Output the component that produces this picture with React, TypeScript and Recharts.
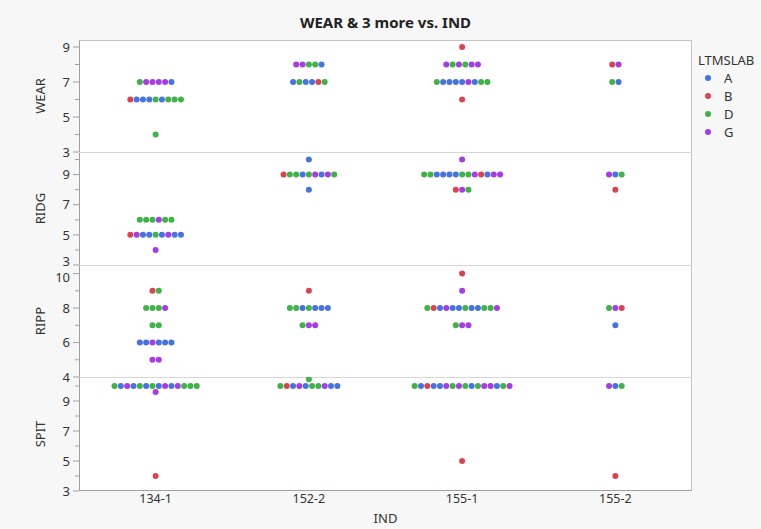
import React from 'react';
import { ScatterChart, Scatter, XAxis, YAxis } from 'recharts';

// IND categories along the x axis
const inds = ['134-1', '152-2', '155-1', '155-2'];

// LTMSLAB groups and their colours
const labs = ['A', 'B', 'D', 'G'];
const labColors: Record<string, string> = {
  A: '#4673E1',
  B: '#DA4450',
  D: '#3FB248',
  G: '#A53CE6',
};

// each row: [IND, value, LTMSLAB of every dot in the row, left to right]
type Row = [string, number, string];

const wearRows: Row[] = [
  ['134-1', 7, 'DGGGGA'],
  ['134-1', 6, 'BAAADADDD'],
  ['134-1', 4, 'D'],
  ['152-2', 8, 'GGDDA'],
  ['152-2', 7, 'ADAABD'],
  ['155-1', 9, 'B'],
  ['155-1', 8, 'GDGDGG'],
  ['155-1', 7, 'DAAAAGADD'],
  ['155-1', 6, 'B'],
  ['155-2', 8, 'BG'],
  ['155-2', 7, 'DA'],
];

const ridgRows: Row[] = [
  ['134-1', 6, 'DDDGDD'],
  ['134-1', 5, 'BGAADAGAA'],
  ['134-1', 4, 'G'],
  ['152-2', 10, 'A'],
  ['152-2', 9, 'BDDADGAGD'],
  ['152-2', 8, 'A'],
  ['155-1', 10, 'G'],
  ['155-1', 9, 'DDAAAADDGBAGG'],
  ['155-1', 8, 'BGD'],
  ['155-2', 9, 'GAD'],
  ['155-2', 8, 'B'],
];

const rippRows: Row[] = [
  ['134-1', 9, 'BD'],
  ['134-1', 8, 'DDDG'],
  ['134-1', 7, 'DD'],
  ['134-1', 6, 'AAGAAA'],
  ['134-1', 5, 'GG'],
  ['152-2', 9, 'B'],
  ['152-2', 8, 'DDADAAA'],
  ['152-2', 7, 'DGG'],
  ['155-1', 10, 'B'],
  ['155-1', 9, 'G'],
  ['155-1', 8, 'DBAGAADAADDG'],
  ['155-1', 7, 'DGG'],
  ['155-2', 8, 'DGB'],
  ['155-2', 7, 'A'],
];

const spitRows: Row[] = [
  ['134-1', 10, 'DAGADADAGAGDDD'],
  ['134-1', 9.6, 'G'],
  ['134-1', 4, 'B'],
  ['152-2', 10.45, 'D'],
  ['152-2', 10, 'DBAGADDGAA'],
  ['155-1', 10, 'DABAAGDGDADGGADG'],
  ['155-1', 5, 'B'],
  ['155-2', 10, 'GAD'],
  ['155-2', 4, 'B'],
];

// labelled and unlabelled ticks per panel
const wearTicks = [3, 5, 7, 9];
const wearMinor = [3, 4, 5, 6, 7, 8, 9];
const ridgTicks = [3, 5, 7, 9];
const ridgMinor = [3, 4, 5, 6, 7, 8, 9, 10];
const rippTicks = [4, 6, 8, 10];
const rippMinor = [4, 5, 6, 7, 8, 9, 10];
const spitTicks = [3, 5, 7, 9];
const spitMinor = [3, 4, 5, 6, 7, 8, 9, 10];

const W = 761;
const H = 529;
const PLOT_L = 79;
const PLOT_R = 692;
const PAD = 10;
const X_AXIS_H = 36;
const DOT_STEP = 0.0413; // horizontal spacing of swarm dots, in x units
const AXIS_GRAY = '#a0a0a0';
const TEXT = '#333';

const panels = [
  { name: 'WEAR', rows: wearRows, domain: [3, 9.4], ticks: wearTicks, minor: wearMinor, top: 40, bottom: 152 },
  { name: 'RIDG', rows: ridgRows, domain: [3, 10.5], ticks: ridgTicks, minor: ridgMinor, top: 152, bottom: 265 },
  { name: 'RIPP', rows: rippRows, domain: [4, 10.5], ticks: rippTicks, minor: rippMinor, top: 265, bottom: 377 },
  { name: 'SPIT', rows: spitRows, domain: [3, 10.6], ticks: spitTicks, minor: spitMinor, top: 377, bottom: 491 },
];

const toPoints = (rows: Row[]) => {
  const pts: { x: number; y: number; lab: string }[] = [];
  rows.forEach(([ind, value, seq]) => {
    const n = seq.length;
    seq.split('').forEach((lab, i) => {
      pts.push({
        x: inds.indexOf(ind) + 0.5 + (i - (n - 1) / 2) * DOT_STEP,
        y: value,
        lab,
      });
    });
  });
  return pts;
};

const YTick = (props: any) => {
  const { x, y, payload, major, nudgeLow, nudgeHigh } = props;
  const isMajor = major.includes(payload.value);
  // keep labels sitting on a panel border from colliding with the neighbour panel's label
  let shift = 0;
  if (nudgeLow && payload.value === major[0]) shift = -4;
  if (nudgeHigh && payload.value === major[major.length - 1]) shift = 4;
  return (
    <g>
      <line x1={x - (isMajor ? 6 : 4)} x2={x} y1={y} y2={y} stroke={AXIS_GRAY} />
      {isMajor && (
        <text x={x - 9} y={y + shift} dy="0.36em" textAnchor="end" fontSize={13} fill={TEXT}>
          {payload.value}
        </text>
      )}
    </g>
  );
};

const Dot = (color: string) => (props: any) => (
  <circle cx={props.cx} cy={props.cy} r={3} fill={color} />
);

const Panel = ({ p, last, idx }: { p: (typeof panels)[number]; last: boolean; idx: number }) => {
  const pts = toPoints(p.rows);
  const h = p.bottom - p.top;
  const height = PAD + h + (last ? X_AXIS_H : PAD);
  const nudgeLow = idx === 1;
  const nudgeHigh = idx === 2;
  return (
    <div style={{ position: 'absolute', left: 0, top: p.top - PAD }}>
      <ScatterChart
        width={W}
        height={height}
        margin={{ top: PAD, right: W - PLOT_R, bottom: last ? 0 : PAD, left: 0 }}
      >
        <XAxis
          type="number"
          dataKey="x"
          domain={[0, 4]}
          allowDataOverflow
          hide={!last}
          ticks={[0.5, 1.5, 2.5, 3.5]}
          interval={0}
          tickFormatter={(v: number) => inds[Math.floor(v)]}
          axisLine={false}
          tickLine={false}
          tickSize={0}
          tickMargin={3}
          height={X_AXIS_H}
          tick={{ fontSize: 12.5, fill: TEXT }}
          label={{ value: 'IND', position: 'insideBottom', offset: 4, fontSize: 13, fill: TEXT }}
        />
        <YAxis
          type="number"
          dataKey="y"
          domain={p.domain}
          allowDataOverflow
          ticks={p.minor}
          interval={0}
          width={PLOT_L}
          axisLine={false}
          tickLine={false}
          tickSize={0}
          tickMargin={0}
          tick={(tp: any) => (
            <YTick {...tp} major={p.ticks} nudgeLow={nudgeLow} nudgeHigh={nudgeHigh} />
          )}
          label={{
            value: p.name,
            angle: -90,
            position: 'insideLeft',
            offset: 40,
            fontSize: 13,
            fill: TEXT,
            style: { textAnchor: 'middle' },
          }}
        />
        {labs.map((lab) => (
          <Scatter
            key={lab}
            name={lab}
            data={pts.filter((d) => d.lab === lab)}
            fill={labColors[lab]}
            shape={Dot(labColors[lab])}
            isAnimationActive={false}
          />
        ))}
      </ScatterChart>
    </div>
  );
};

export default function App() {
  const plotTop = panels[0].top;
  const plotBottom = panels[panels.length - 1].bottom;
  return (
    <div
      style={{
        position: 'fixed',
        left: 0,
        top: 0,
        width: W,
        height: H,
        background: '#f7f7f7',
        overflow: 'hidden',
        fontFamily: "'Noto Sans', sans-serif",
      }}
    >
      <div
        style={{
          position: 'absolute',
          top: 12,
          left: PLOT_L,
          width: PLOT_R - PLOT_L,
          textAlign: 'center',
          fontWeight: 'bold',
          fontSize: 15,
          color: '#222',
        }}
      >
        WEAR &amp; 3 more vs. IND
      </div>
      <div
        style={{
          position: 'absolute',
          left: PLOT_L,
          top: plotTop,
          width: PLOT_R - PLOT_L,
          height: plotBottom - plotTop,
          boxSizing: 'border-box',
          background: '#fff',
          borderTop: '1px solid #c4c4c4',
          borderRight: '1px solid #c4c4c4',
          borderLeft: `1px solid ${AXIS_GRAY}`,
          borderBottom: `1px solid ${AXIS_GRAY}`,
        }}
      />
      {panels.slice(1).map((p) => (
        <div
          key={p.name}
          style={{
            position: 'absolute',
            left: PLOT_L,
            top: p.top,
            width: PLOT_R - PLOT_L,
            height: 1,
            background: '#d6d6d6',
          }}
        />
      ))}
      {panels.map((p, i) => (
        <Panel key={p.name} p={p} idx={i} last={i === panels.length - 1} />
      ))}
      <svg style={{ position: 'absolute', left: 0, top: 0 }} width={W} height={H}>
        <text x={698} y={60} dy="0.36em" fontSize={13} fill={TEXT}>
          LTMSLAB
        </text>
        {labs.map((lab, i) => (
          <g key={lab}>
            <circle cx={708} cy={78 + i * 18} r={3} fill={labColors[lab]} />
            <text x={724} y={78 + i * 18} dy="0.36em" fontSize={13} fill={TEXT}>
              {lab}
            </text>
          </g>
        ))}
      </svg>
    </div>
  );
}
